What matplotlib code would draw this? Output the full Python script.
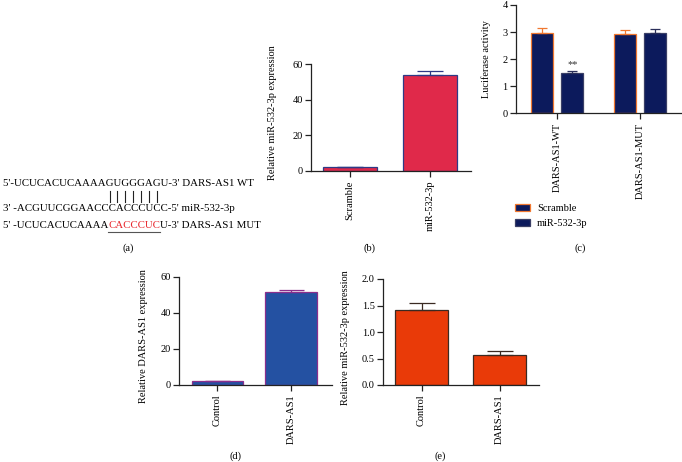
import matplotlib
matplotlib.use("Agg")
import matplotlib.pyplot as plt
from matplotlib.patches import Patch
from matplotlib.lines import Line2D

plt.rcParams['font.family'] = ['Liberation Serif', 'DejaVu Serif']
plt.rcParams['font.size'] = 7

# ---------------- data ----------------
seq_wt = "5'-UCUCACUCAAAAGUGGGAGU-3' DARS-AS1 WT"
seq_mir = "3' -ACGUUCGGAACCCACCCUCC-5' miR-532-3p"
seq_mut_pre = "5' -UCUCACUCAAAA"
seq_mut_red = "CACCCUC"
seq_mut_post = "U-3' DARS-AS1 MUT"
pair_start, pair_count = 15, 7

b_categories = ["Scramble", "miR-532-3p"]
b_values = [2.0, 53.7]
b_err = [0.4, 2.5]

c_groups = ["DARS-AS1-WT", "DARS-AS1-MUT"]
c_series = ["Scramble", "miR-532-3p"]
c_scramble = [2.95, 2.92]
c_scramble_err = [0.20, 0.15]
c_mir = [1.50, 2.98]
c_mir_err = [0.06, 0.12]
c_sig = ["**", ""]

d_categories = ["Control", "DARS-AS1"]
d_values = [2.2, 51.5]
d_err = [0.3, 1.1]

e_categories = ["Control", "DARS-AS1"]
e_values = [1.42, 0.57]
e_err = [0.12, 0.07]

W, H = 682, 462
fig = plt.figure(figsize=(W / 100, H / 100), dpi=100)


def px_axes(l, r, b, t):
    return fig.add_axes([l / W, 1 - b / H, (r - l) / W, (b - t) / H])


def style(ax):
    for s in ["top", "right"]:
        ax.spines[s].set_visible(False)
    for s in ["left", "bottom"]:
        ax.spines[s].set_linewidth(0.9)
        ax.spines[s].set_color("#222222")
    ax.tick_params(direction="out", length=4, width=0.9, color="#222222",
                   labelsize=7.5, pad=2)
    ax.tick_params(axis="x", labelrotation=90, pad=3)


# ---------------- panel a ----------------
renderer = fig.canvas.get_renderer()
fs_a = 7.8
x0 = 3 / W
t1 = fig.text(x0, 1 - 184 / H, seq_wt, fontsize=fs_a, va="center", ha="left")
fig.text(x0, 1 - 208 / H, seq_mir, fontsize=fs_a, va="center", ha="left")
tp = fig.text(x0, 1 - 225 / H, seq_mut_pre, fontsize=fs_a, va="center", ha="left")
bb = tp.get_window_extent(renderer)
tr = fig.text(bb.x1 / W, 1 - 225 / H, seq_mut_red, fontsize=fs_a, va="center",
              ha="left", color="#E8262C")
bbr = tr.get_window_extent(renderer)
fig.text(bbr.x1 / W, 1 - 225 / H, seq_mut_post, fontsize=fs_a, va="center", ha="left")
fig.add_artist(Line2D([bbr.x0 / W, bbr.x1 / W], [1 - 232 / H, 1 - 232 / H],
                      transform=fig.transFigure, color="#555555", lw=0.8))
# pairing bars under line 1 characters
for i in range(pair_start, pair_start + pair_count):
    tmp_a = fig.text(x0, 0, seq_wt[:i], fontsize=fs_a)
    tmp_b = fig.text(x0, 0, seq_wt[:i + 1], fontsize=fs_a)
    xa = tmp_a.get_window_extent(renderer).x1
    xb = tmp_b.get_window_extent(renderer).x1
    tmp_a.remove(); tmp_b.remove()
    xc = (xa + xb) / 2 / W
    fig.add_artist(Line2D([xc, xc], [1 - 191 / H, 1 - 202 / H],
                          transform=fig.transFigure, color="#222222", lw=0.8))
fig.text(128 / W, 1 - 248 / H, "(a)", fontsize=7.5, ha="center", va="center")

# ---------------- panel b ----------------
axb = px_axes(311, 471, 171, 64)
xb = list(range(len(b_categories)))
axb.bar(xb, b_values, width=0.675, color="#E0294A", edgecolor="#2E3A86", linewidth=0.9)
axb.errorbar(xb, b_values, yerr=[[0] * len(b_err), b_err], fmt="none",
             ecolor="#2E3A86", elinewidth=0.9, capsize=9.5, capthick=0.9)
axb.set_xlim(-0.49, 1.51)
axb.set_ylim(0, 60)
axb.set_yticks([0, 20, 40, 60])
axb.set_xticks(xb)
axb.set_xticklabels(b_categories)
style(axb)
axb.set_ylabel("Relative miR-532-3p expression", fontsize=7.5)
axb.yaxis.set_label_coords(-0.21, 0.55)
fig.text(369 / W, 1 - 248 / H, "(b)", fontsize=7.5, ha="center", va="center")

# ---------------- panel c ----------------
axc = px_axes(516, 682, 113.3, 5)
xc = list(range(len(c_groups)))
off = 0.182
bw = 0.267
xs = [x - off for x in xc]
xm = [x + off for x in xc]
axc.bar(xs, c_scramble, width=bw, color="#0C1A5C", edgecolor="#F07830", linewidth=0.9,
        label=c_series[0])
axc.errorbar(xs, c_scramble, yerr=[[0] * 2, c_scramble_err], fmt="none",
             ecolor="#F07830", elinewidth=0.9, capsize=3.8, capthick=0.9)
axc.bar(xm, c_mir, width=bw, color="#0C1A5C", edgecolor="#3A3F66", linewidth=0.9,
        label=c_series[1])
axc.errorbar(xm, c_mir, yerr=[[0] * 2, c_mir_err], fmt="none",
             ecolor="#2A2F5A", elinewidth=0.9, capsize=3.8, capthick=0.9)
for x, v, e, s in zip(xm, c_mir, c_mir_err, c_sig):
    if s:
        axc.text(x, v + e + 0.08, s, ha="center", va="bottom", fontsize=7.5, color="#333333")
axc.set_xlim(-0.503, 1.51)
axc.set_ylim(0, 4)
axc.set_yticks([0, 1, 2, 3, 4])
axc.set_xticks(xc)
axc.set_xticklabels(c_groups)
style(axc)
axc.set_ylabel("Luciferase activity", fontsize=7.5)
axc.yaxis.set_label_coords(-0.152, 0.5)
handles = [Patch(facecolor="#0C1A5C", edgecolor="#F07830", linewidth=0.9),
           Patch(facecolor="#0C1A5C", edgecolor="#3A3F66", linewidth=0.9)]
fig.legend(handles, c_series, loc="upper left", bbox_to_anchor=(515 / W, 1 - 204 / H),
           frameon=False, fontsize=7.5, handlelength=1.4, handleheight=0.7,
           labelspacing=0.55, handletextpad=0.7, borderpad=0, borderaxespad=0)
fig.text(580 / W, 1 - 248 / H, "(c)", fontsize=7.5, ha="center", va="center")

# ---------------- panel d ----------------
axd = px_axes(179, 332, 385, 277)
xd = list(range(len(d_categories)))
axd.bar(xd, d_values, width=0.69, color="#2451A2", edgecolor="#8A2F8C", linewidth=0.9)
axd.errorbar(xd, d_values, yerr=[[0] * 2, d_err], fmt="none",
             ecolor="#8A2F8C", elinewidth=0.9, capsize=9, capthick=0.9)
axd.set_xlim(-0.514, 1.554)
axd.set_ylim(0, 60)
axd.set_yticks([0, 20, 40, 60])
axd.set_xticks(xd)
axd.set_xticklabels(d_categories)
style(axd)
axd.set_ylabel("Relative DARS-AS1 expression", fontsize=7.5)
axd.yaxis.set_label_coords(-0.203, 0.45)
fig.text(235 / W, 1 - 456 / H, "(d)", fontsize=7.5, ha="center", va="center")

# ---------------- panel e ----------------
axe = px_axes(383, 539, 385, 279)
xe = list(range(len(e_categories)))
axe.bar(xe, e_values, width=0.68, color="#E93A08", edgecolor="#3A2A22", linewidth=0.9)
axe.errorbar(xe, e_values, yerr=[[0] * 2, e_err], fmt="none",
             ecolor="#3A2A22", elinewidth=0.9, capsize=9.4, capthick=0.9)
axe.set_xlim(-0.494, 1.506)
axe.set_ylim(0, 2)
axe.set_yticks([0, 0.5, 1.0, 1.5, 2.0])
axe.set_yticklabels(["0.0", "0.5", "1.0", "1.5", "2.0"])
axe.set_xticks(xe)
axe.set_xticklabels(e_categories)
style(axe)
axe.set_ylabel("Relative miR-532-3p expression", fontsize=7.5)
axe.yaxis.set_label_coords(-0.21, 0.45)
fig.text(440 / W, 1 - 456 / H, "(e)", fontsize=7.5, ha="center", va="center")

fig.savefig("out.png", dpi=100)
